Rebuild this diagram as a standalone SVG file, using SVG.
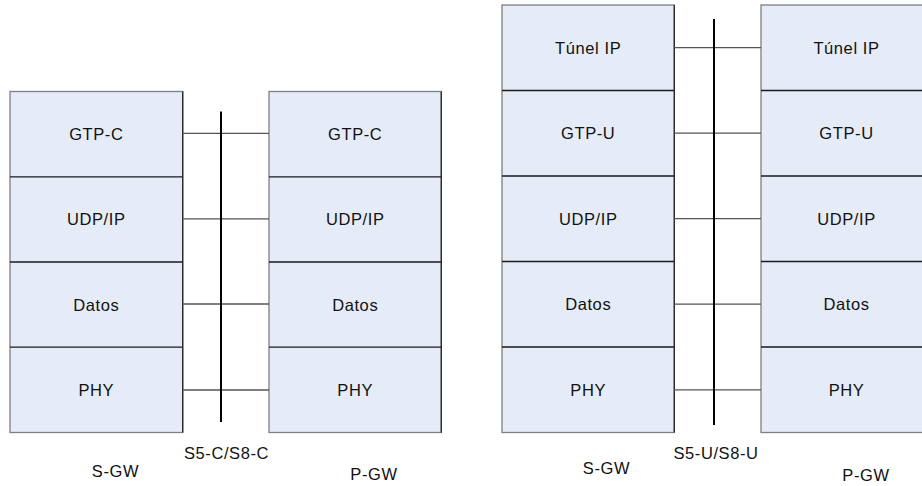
<svg xmlns="http://www.w3.org/2000/svg" width="922" height="486" viewBox="0 0 922 486">
  <style>
    .cell { fill: #E6ECF7; stroke: #7F7F7F; stroke-width: 1.3; }
    .div { stroke: #1A1A1A; stroke-width: 1.3; }
    .edge { stroke: #262626; stroke-width: 1.3; }
    .link { stroke: #555555; stroke-width: 1.3; fill: none; }
    .bar { stroke: #000000; stroke-width: 2; }
    text { font-family: "Liberation Sans", Arial, sans-serif; font-size: 16.5px; letter-spacing: 0.6px; fill: #111111; text-anchor: middle; }
  </style>

  <!-- Control plane: S-GW stack -->
  <g id="sgw-c">
    <rect class="cell" x="10" y="91.5" width="172.7" height="341"/>
    <line class="div" x1="10" y1="176.8" x2="182.7" y2="176.8"/>
    <line class="div" x1="10" y1="262" x2="182.7" y2="262"/>
    <line class="div" x1="10" y1="347.2" x2="182.7" y2="347.2"/>
    <line class="edge" x1="182.7" y1="91.5" x2="182.7" y2="432.5"/>
    <text x="96.3" y="140">GTP-C</text>
    <text x="96.3" y="225.4">UDP/IP</text>
    <text x="96.3" y="310.6">Datos</text>
    <text x="96.3" y="395.8">PHY</text>
  </g>

  <!-- Control plane: P-GW stack -->
  <g id="pgw-c">
    <rect class="cell" x="269" y="91.5" width="172.3" height="341"/>
    <line class="div" x1="269" y1="176.8" x2="441.3" y2="176.8"/>
    <line class="div" x1="269" y1="262" x2="441.3" y2="262"/>
    <line class="div" x1="269" y1="347.2" x2="441.3" y2="347.2"/>
    <line class="edge" x1="441.3" y1="91.5" x2="441.3" y2="432.5"/>
    <text x="355.2" y="140">GTP-C</text>
    <text x="355.2" y="225.4">UDP/IP</text>
    <text x="355.2" y="310.6">Datos</text>
    <text x="355.2" y="395.8">PHY</text>
  </g>

  <!-- User plane: S-GW stack -->
  <g id="sgw-u">
    <rect class="cell" x="502" y="5" width="172.3" height="427.5"/>
    <line class="div" x1="502" y1="90.5" x2="674.3" y2="90.5"/>
    <line class="div" x1="502" y1="176" x2="674.3" y2="176"/>
    <line class="div" x1="502" y1="261.5" x2="674.3" y2="261.5"/>
    <line class="div" x1="502" y1="347" x2="674.3" y2="347"/>
    <line class="edge" x1="674.3" y1="5" x2="674.3" y2="432.5"/>
    <text x="588.2" y="53.7">Túnel IP</text>
    <text x="588.2" y="139.2">GTP-U</text>
    <text x="588.2" y="224.7">UDP/IP</text>
    <text x="588.2" y="310.2">Datos</text>
    <text x="588.2" y="395.7">PHY</text>
  </g>

  <!-- User plane: P-GW stack -->
  <g id="pgw-u">
    <rect class="cell" x="761" y="5" width="172" height="427.5"/>
    <line class="div" x1="761" y1="90.5" x2="933" y2="90.5"/>
    <line class="div" x1="761" y1="176" x2="933" y2="176"/>
    <line class="div" x1="761" y1="261.5" x2="933" y2="261.5"/>
    <line class="div" x1="761" y1="347" x2="933" y2="347"/>
    <text x="846.5" y="53.7">Túnel IP</text>
    <text x="846.5" y="139.2">GTP-U</text>
    <text x="846.5" y="224.7">UDP/IP</text>
    <text x="846.5" y="310.2">Datos</text>
    <text x="846.5" y="395.7">PHY</text>
  </g>

  <!-- Peer links and interface bars -->
  <g id="connectors">
    <line class="link" x1="182.7" y1="133.3" x2="269" y2="133.3"/>
    <line class="link" x1="182.7" y1="218.8" x2="269" y2="218.8"/>
    <line class="link" x1="182.7" y1="304" x2="269" y2="304"/>
    <line class="link" x1="182.7" y1="390" x2="269" y2="390"/>
    <line class="bar" x1="221" y1="111.5" x2="221" y2="422"/>

    <line class="link" x1="674.3" y1="47.7" x2="761" y2="47.7"/>
    <line class="link" x1="674.3" y1="133.2" x2="761" y2="133.2"/>
    <line class="link" x1="674.3" y1="218.7" x2="761" y2="218.7"/>
    <line class="link" x1="674.3" y1="304.2" x2="761" y2="304.2"/>
    <line class="link" x1="674.3" y1="389.8" x2="761" y2="389.8"/>
    <line class="bar" x1="714" y1="19" x2="714" y2="425"/>
  </g>

  <!-- Labels -->
  <g id="labels">
    <text x="226.5" y="459">S5-C/S8-C</text>
    <text x="115.5" y="477">S-GW</text>
    <text x="374" y="480">P-GW</text>
    <text x="716" y="459">S5-U/S8-U</text>
    <text x="606.5" y="474">S-GW</text>
    <text x="866" y="480.5">P-GW</text>
  </g>
</svg>
